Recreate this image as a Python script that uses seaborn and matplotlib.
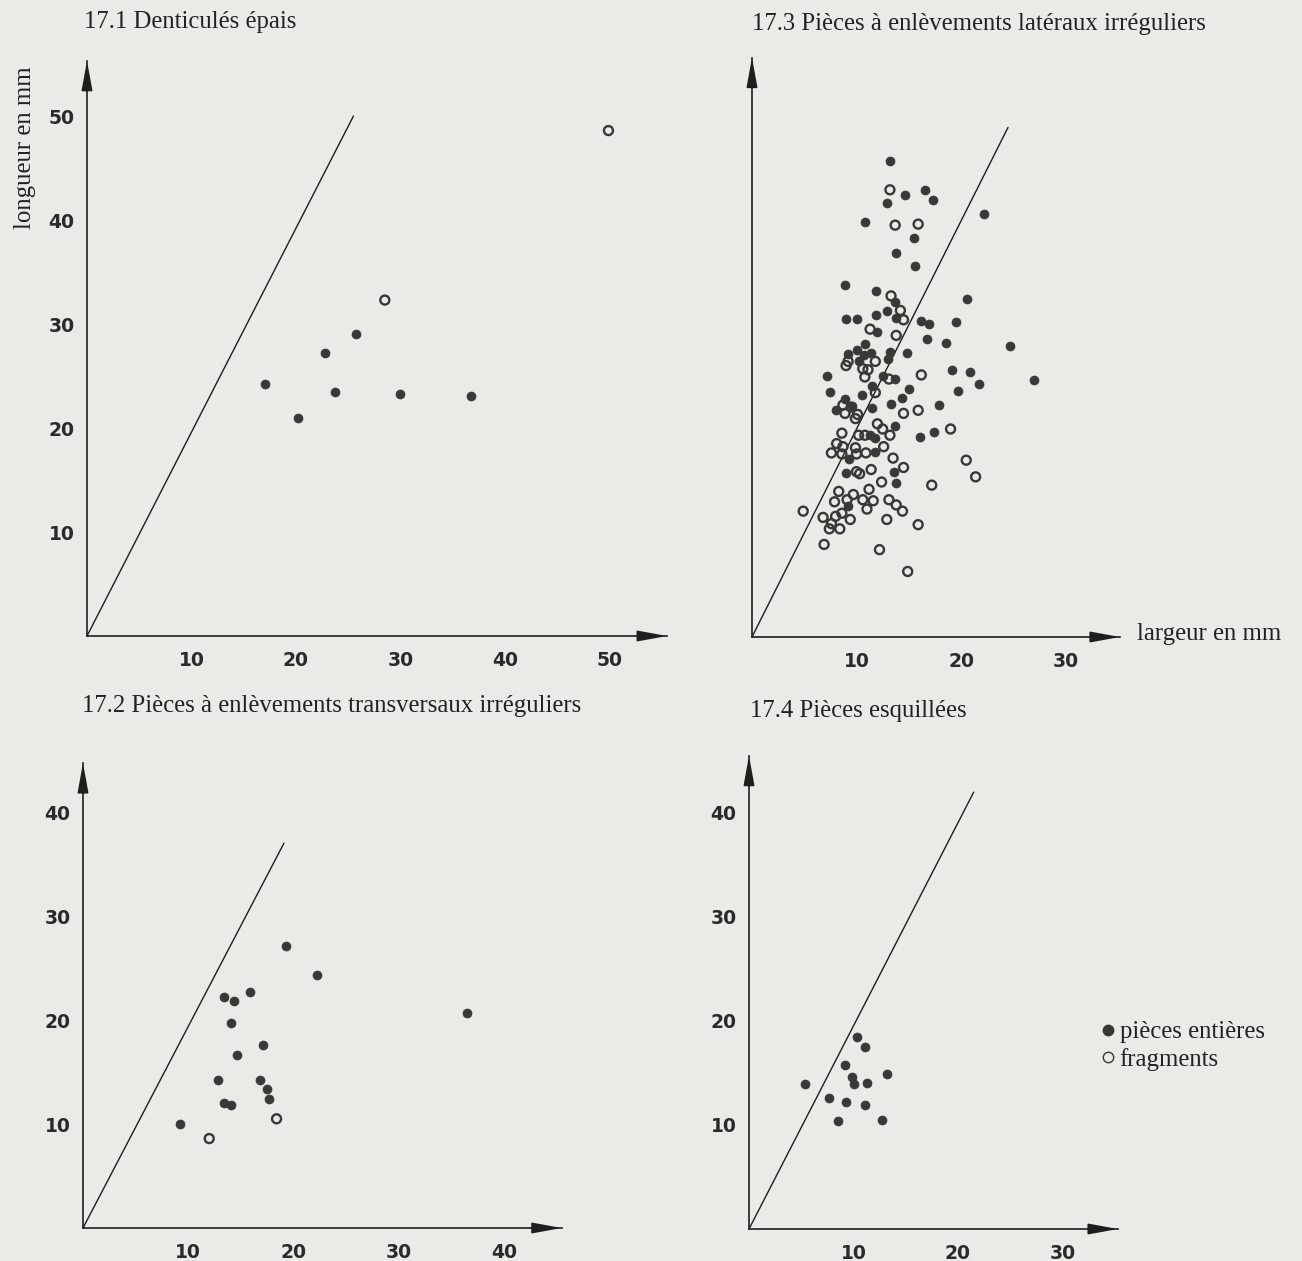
import matplotlib
matplotlib.use("Agg")
import matplotlib.pyplot as plt
import numpy as np
import seaborn as sns
from matplotlib.lines import Line2D

sns.set_style("white")
plt.rcParams['font.family'] = ['Liberation Serif', 'DejaVu Serif']

W, H = 1302, 1261
BG = '#eaeae6'
INK = '#383838'

# 17.1 Denticulés épais
d1_full_x = [17.0, 20.2, 22.8, 23.7, 25.7, 30.0, 36.7]
d1_full_y = [24.2, 21.0, 27.2, 23.5, 29.0, 23.3, 23.1]
d1_frag_x = [28.5, 49.9]
d1_frag_y = [32.3, 48.6]
d1_line = [25.5, 50.0]

# 17.2 Pièces à enlèvements transversaux irréguliers
d2_full_x = [9.2, 13.4, 14.4, 15.9, 19.3, 22.2, 36.5, 14.1, 17.1, 14.6, 12.8, 16.8,
             17.5, 17.7, 13.4, 14.1]
d2_full_y = [10.0, 22.2, 21.8, 22.7, 27.1, 24.3, 20.7, 19.7, 17.6, 16.6, 14.2, 14.2,
             13.4, 12.4, 12.0, 11.8]
d2_frag_x = [18.4, 12.0]
d2_frag_y = [10.5, 8.6]
d2_line = [19.1, 37.0]

# 17.3 Pièces à enlèvements latéraux irréguliers
d3_full_x = [13.2, 14.6, 16.6, 17.3, 12.9, 22.2, 10.8, 15.5, 13.8, 15.6, 8.9, 11.9,
             20.6, 13.7,
             9.0, 10.0, 11.9, 12.9, 13.8, 16.2, 16.9, 19.5, 12.0, 16.7, 18.6, 24.7,
             10.8, 10.0, 9.2, 10.7, 11.4, 13.2, 14.8, 13.0, 10.2, 7.2, 12.5, 13.7,
             19.1, 20.9, 27.0, 21.7, 19.7, 7.5, 15.0, 11.5, 10.5, 14.4, 8.9, 8.0,
             9.6, 11.5, 13.3, 17.9, 13.7, 16.1, 17.4, 11.3, 11.8, 11.8, 9.3, 9.0,
             13.6, 13.8, 9.2]
d3_full_y = [45.8, 42.5, 43.0, 42.0, 41.7, 40.7, 39.9, 38.4, 36.9, 35.7, 33.8, 33.3,
             32.5, 32.2,
             30.6, 30.6, 31.0, 31.3, 30.7, 30.4, 30.1, 30.3, 29.3, 28.7, 28.3, 28.0,
             28.2, 27.6, 27.2, 27.1, 27.3, 27.4, 27.3, 26.7, 26.5, 25.1, 25.1, 24.8,
             25.7, 25.5, 24.7, 24.3, 23.7, 23.6, 23.8, 24.1, 23.3, 23.0, 22.9, 21.8,
             22.2, 22.0, 22.4, 22.3, 20.3, 19.2, 19.7, 19.4, 19.1, 17.8, 17.1, 15.8,
             15.9, 14.8, 12.6]
d3_frag_x = [13.2, 13.7, 15.9, 13.3,
             14.2, 14.5, 11.3, 13.8, 11.8, 9.2, 9.0, 10.6, 11.1, 10.8, 13.1, 16.2,
             11.8, 8.7, 9.5, 8.9, 10.1, 9.9, 14.5, 15.9, 12.0, 12.5, 13.2, 19.0,
             10.2, 10.8, 8.6, 8.1, 8.7, 7.6, 8.6, 9.9, 10.0, 10.9, 12.6, 13.5,
             20.5, 10.0, 10.3, 11.4, 14.5, 21.4, 12.4, 17.2, 11.2, 8.3, 9.7, 7.9,
             9.1, 10.6, 11.6, 11.0, 13.1, 13.8, 14.4, 4.9, 6.8, 8.0, 8.6, 7.6,
             9.4, 7.4, 8.4, 12.9, 15.9, 6.9, 12.2, 14.9]
d3_frag_y = [43.0, 39.6, 39.7, 32.8,
             31.4, 30.5, 29.6, 29.0, 26.5, 26.5, 26.1, 25.8, 25.7, 25.0, 24.8, 25.2,
             23.5, 22.3, 22.1, 21.5, 21.4, 21.0, 21.5, 21.8, 20.5, 20.0, 19.4, 20.0,
             19.4, 19.4, 19.6, 18.6, 18.3, 17.7, 17.6, 18.2, 17.6, 17.7, 18.3, 17.2,
             17.0, 15.9, 15.7, 16.1, 16.3, 15.4, 14.9, 14.6, 14.2, 14.0, 13.7, 13.0,
             13.2, 13.2, 13.1, 12.3, 13.2, 12.7, 12.1, 12.1, 11.5, 11.6, 11.9, 10.9,
             11.3, 10.4, 10.4, 11.3, 10.8, 8.9, 8.4, 6.3]
d3_line = [24.5, 49.0]

# 17.4 Pièces esquillées
d4_full_x = [10.3, 11.1, 9.2, 9.9, 13.2, 5.4, 10.0, 11.3, 7.7, 9.3, 11.1, 8.5, 12.7]
d4_full_y = [18.5, 17.5, 15.8, 14.6, 14.9, 13.9, 13.9, 14.0, 12.6, 12.2, 11.9, 10.4, 10.5]
d4_line = [21.5, 42.0]

fig = plt.figure(figsize=(W / 100, H / 100), dpi=100)
fig.patch.set_facecolor(BG)

tick_font = dict(family='DejaVu Sans', weight='bold', size=13.5)


def make_panel(ox, oy, xmax, ymax, xticks, yticks, ylabels=True, sx=10.45, sy=10.4):
    ax = fig.add_axes([ox / W, (H - oy) / H, xmax * sx / W, ymax * sy / H])
    ax.set_facecolor('none')
    ax.set_xlim(0, xmax)
    ax.set_ylim(0, ymax)
    for s in ['top', 'right']:
        ax.spines[s].set_visible(False)
    for s in ['left', 'bottom']:
        ax.spines[s].set_color('#1e1e1e')
        ax.spines[s].set_linewidth(1.2)
    ax.set_xticks(xticks)
    ax.set_yticks(yticks)
    ax.set_xticklabels([str(t) for t in xticks], fontdict=tick_font, color='#2a2a2a')
    if ylabels:
        ax.set_yticklabels([str(t) for t in yticks], fontdict=tick_font, color='#2a2a2a')
    else:
        ax.set_yticklabels([])
    ax.tick_params(axis='both', direction='out', length=5, width=1.3, color='#1e1e1e')
    ax.tick_params(axis='x', pad=6)
    ax.tick_params(axis='y', pad=4)
    ax.set_xlabel('')
    ax.set_ylabel('')
    head = dict(arrowstyle='-|>,head_length=1.8,head_width=0.33', mutation_scale=10,
                color='#1e1e1e', lw=1.2, shrinkA=0, shrinkB=0)
    ax.annotate('', xy=(1, 0), xycoords='axes fraction', xytext=(-30, 0),
                textcoords='offset pixels', arrowprops=head, annotation_clip=False)
    ax.annotate('', xy=(0, 1), xycoords='axes fraction', xytext=(0, -30),
                textcoords='offset pixels', arrowprops=head, annotation_clip=False)
    return ax


def draw(ax, fx, fy, gx, gy, line):
    ax.plot([0, line[0]], [0, line[1]], color='#1e1e1e', lw=1.0)
    sns.scatterplot(x=fx, y=fy, ax=ax, color=INK, s=42, edgecolor=INK, linewidth=0.5,
                    zorder=3, clip_on=False)
    if gx:
        sns.scatterplot(x=gx, y=gy, ax=ax, facecolor='none', edgecolor=INK, s=42,
                        linewidth=1.7, zorder=3, clip_on=False)


ax1 = make_panel(87, 636, 55.5, 55.3, [10, 20, 30, 40, 50], [10, 20, 30, 40, 50])
draw(ax1, d1_full_x, d1_full_y, d1_frag_x, d1_frag_y, d1_line)

ax3 = make_panel(752, 637, 35.2, 55.7, [10, 20, 30], [10, 20, 30, 40, 50], ylabels=False)
draw(ax3, d3_full_x, d3_full_y, d3_frag_x, d3_frag_y, d3_line)

ax2 = make_panel(83, 1228, 45.5, 44.7, [10, 20, 30, 40], [10, 20, 30, 40], sx=10.52)
draw(ax2, d2_full_x, d2_full_y, d2_frag_x, d2_frag_y, d2_line)

ax4 = make_panel(749, 1229, 35.3, 45.5, [10, 20, 30], [10, 20, 30, 40])
draw(ax4, d4_full_x, d4_full_y, [], [], d4_line)

title_kw = dict(fontsize=17.8, color='#222222', va='center', ha='left')
fig.text(84 / W, 1 - 22 / H, '17.1 Denticulés épais', **title_kw)
fig.text(752 / W, 1 - 24 / H, '17.3 Pièces à enlèvements latéraux irréguliers', **title_kw)
fig.text(82 / W, 1 - 706 / H, '17.2 Pièces à enlèvements transversaux irréguliers', **title_kw)
fig.text(750 / W, 1 - 711 / H, '17.4 Pièces esquillées', **title_kw)

fig.text(25 / W, 1 - 148 / H, 'longueur en mm', rotation=90, fontsize=17.8,
         color='#222222', va='center', ha='center')
fig.text(1137 / W, 1 - 634 / H, 'largeur en mm', fontsize=17.8, color='#222222',
         va='center', ha='left')

handles = [Line2D([], [], ls='none', marker='o', ms=7.5, mfc=INK, mec=INK),
           Line2D([], [], ls='none', marker='o', ms=7.5, mfc='none', mec=INK, mew=1.0)]
fig.legend(handles, ['pièces entières', 'fragments'], loc='center left',
           bbox_to_anchor=(1101 / W, 1 - 1046 / H), frameon=False, fontsize=17.8,
           handlelength=0.55, handletextpad=0.2, labelspacing=0.2, borderpad=0,
           borderaxespad=0, labelcolor='#222222')

fig.savefig('out.png', dpi=100, facecolor=BG)
